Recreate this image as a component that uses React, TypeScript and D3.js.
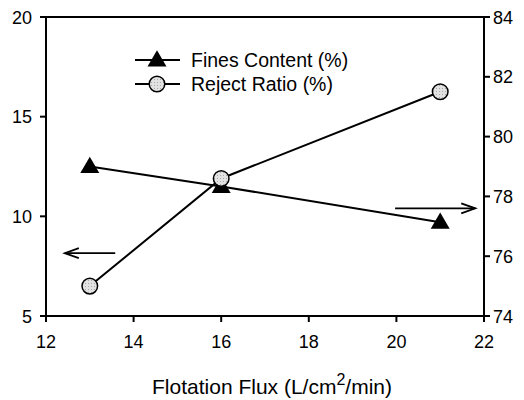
import React from 'react';
import * as d3 from 'd3';

const flux = [13, 16, 21];
const finesContent = [12.5, 11.5, 9.7];
const rejectRatio = [75.0, 78.6, 81.5];
const xTicks = [12, 14, 16, 18, 20, 22];
const leftTicks = [5, 10, 15, 20];
const rightTicks = [74, 76, 78, 80, 82, 84];

const W = 524;
const H = 400;
const margin = { top: 17, right: 40, bottom: 84, left: 46 };
const FONT = 'Arial, "Liberation Sans", sans-serif';

function triangle(cx: number, cy: number, s: number) {
  const h = s * 0.85;
  return `M${cx},${cy - h * 0.6} L${cx + s / 2},${cy + h * 0.4} L${cx - s / 2},${cy + h * 0.4} Z`;
}

export default function App() {
  const x = d3.scaleLinear().domain([12, 22]).range([margin.left, W - margin.right]);
  const yL = d3.scaleLinear().domain([5, 20]).range([H - margin.bottom, margin.top]);
  const yR = d3.scaleLinear().domain([74, 84]).range([H - margin.bottom, margin.top]);
  const x0 = x(12), x1 = x(22), y0 = yL(5), y1 = yL(20);

  const fines = flux.map((f, i) => [x(f), yL(finesContent[i])] as [number, number]);
  const reject = flux.map((f, i) => [x(f), yR(rejectRatio[i])] as [number, number]);
  const line = d3.line();

  // arrows pointing at the axis each series belongs to
  const la = { x1: x(13.58), x2: x(12.43), y: yL(8.15) };
  const ra = { x1: x(19.97), x2: x(21.8), y: yR(77.6) };

  return (
    <svg width={W} height={H} style={{ position: 'absolute', left: 0, top: 0, background: '#fff' }}>
      <defs>
        <pattern id="dots" width="3" height="3" patternUnits="userSpaceOnUse">
          <rect width="3" height="3" fill="#e2e2e2" />
          <rect x="1" y="1" width="1" height="1" fill="#a8a8a8" />
        </pattern>
      </defs>
      <g stroke="#000" strokeWidth={2} fill="none">
        <rect x={x0} y={y1} width={x1 - x0} height={y0 - y1} />
        {xTicks.map(t => <line key={t} x1={x(t)} x2={x(t)} y1={y0} y2={y0 + 6} />)}
        {leftTicks.map(t => <line key={t} x1={x0 - 6} x2={x0} y1={yL(t)} y2={yL(t)} />)}
        {rightTicks.map(t => <line key={t} x1={x1} x2={x1 + 6} y1={yR(t)} y2={yR(t)} />)}
      </g>
      <g fontFamily={FONT} fontSize={18} fill="#000">
        {xTicks.map(t => (
          <text key={t} x={x(t)} y={y0 + 32} textAnchor="middle">{t}</text>
        ))}
        {leftTicks.map(t => (
          <text key={t} x={x0 - 14} y={yL(t) + 6.5} textAnchor="end">{t}</text>
        ))}
        {rightTicks.map(t => (
          <text key={t} x={x1 + 9} y={yR(t) + 6.5} textAnchor="start">{t}</text>
        ))}
        <text x={272} y={394} textAnchor="middle" fontSize={21}>
          Flotation Flux (L/cm<tspan dy={-9} fontSize={16}>2</tspan><tspan dy={9}>/min)</tspan>
        </text>
      </g>

      <path d={line(fines) || ''} stroke="#000" strokeWidth={2} fill="none" />
      <path d={line(reject) || ''} stroke="#000" strokeWidth={2} fill="none" />
      {fines.map(([cx, cy], i) => (
        <path key={i} d={triangle(cx, cy, 19)} fill="#000" />
      ))}
      {reject.map(([cx, cy], i) => (
        <circle key={i} cx={cx} cy={cy} r={7.8} fill="url(#dots)" stroke="#000" strokeWidth={1.5} />
      ))}

      <g stroke="#000" strokeWidth={1.8} fill="none">
        <line x1={la.x1} x2={la.x2} y1={la.y} y2={la.y} />
        <polyline points={`${la.x2 + 14},${la.y - 5} ${la.x2},${la.y} ${la.x2 + 14},${la.y + 5}`} />
        <line x1={ra.x1} x2={ra.x2} y1={ra.y} y2={ra.y} />
        <polyline points={`${ra.x2 - 14},${ra.y - 5} ${ra.x2},${ra.y} ${ra.x2 - 14},${ra.y + 5}`} />
      </g>

      <g fontFamily={FONT} fontSize={19.5}>
        <line x1={135} x2={180} y1={60} y2={60} stroke="#000" strokeWidth={2} />
        <path d={triangle(157, 60, 19)} fill="#000" />
        <text x={191} y={67}>Fines Content (%)</text>
        <line x1={135} x2={180} y1={84} y2={84} stroke="#000" strokeWidth={2} />
        <circle cx={157} cy={84} r={7.8} fill="url(#dots)" stroke="#000" strokeWidth={1.5} />
        <text x={191} y={91}>Reject Ratio (%)</text>
      </g>
    </svg>
  );
}
